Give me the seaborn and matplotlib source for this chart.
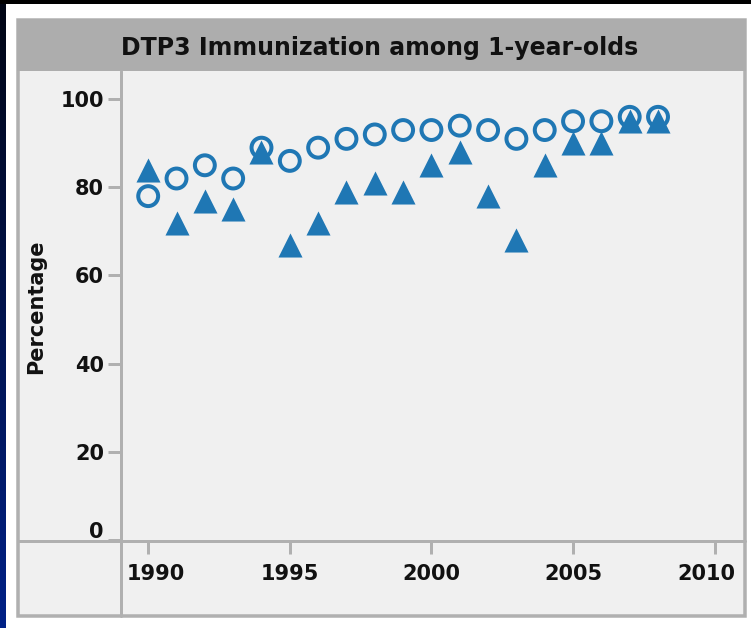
import numpy as np
import pandas as pd
import matplotlib
matplotlib.use("Agg")
import matplotlib.pyplot as plt
from matplotlib.patches import Rectangle
from matplotlib.lines import Line2D
import matplotlib.transforms as mtransforms
import seaborn as sns

# ---- data ----
years = list(range(1990, 2009))
series_circle = [78, 82, 85, 82, 89, 86, 89, 91, 92, 93, 93, 94, 93, 91, 93, 95, 95, 96, 96]
series_triangle = [84, 72, 77, 75, 88, 67, 72, 79, 81, 79, 85, 88, 78, 68, 85, 90, 90, 95, 95]
x_ticks = [1990, 1995, 2000, 2005, 2010]
y_ticks = [0, 20, 40, 60, 80, 100]
title_text = "DTP3 Immunization among 1-year-olds"
ylabel_text = "Percentage"

sns.set_theme(style="white")
plt.rcParams['font.family'] = ['DejaVu Sans']

W, H = 751, 628
DPI = 100
fig = plt.figure(figsize=(W / DPI, H / DPI), dpi=DPI, facecolor="white")

def fx(px):
    return px / W

def fy(py):
    return 1 - py / H

PT = 72 / DPI  # points per pixel
GRAY = "#b0b0b0"
PANEL = "#f0f0f0"
BLUE = "#1f77b4"
TXT = "#111111"

# ---- outer decoration ----
fig.patches.append(Rectangle((0, fy(4)), 1, 4 / H, transform=fig.transFigure,
                             facecolor="black", edgecolor="none", zorder=0))
gax = fig.add_axes([0, 0, fx(6), fy(4)])
grad = np.linspace(0, 1, 256).reshape(-1, 1)
cols = np.zeros((256, 1, 3))
cols[:, 0, 0] = 0.0
cols[:, 0, 1] = 0.02 + 0.11 * grad[:, 0]
cols[:, 0, 2] = 0.08 + 0.45 * grad[:, 0]
gax.imshow(cols, aspect="auto", origin="upper")
gax.set_axis_off()
gax.set_zorder(1)

# panel background with border
fig.patches.append(Rectangle((fx(18), fy(616)), fx(745) - fx(18), fy(20) - fy(616),
                             transform=fig.transFigure, facecolor=PANEL,
                             edgecolor=GRAY, linewidth=3.5 * PT, zorder=0))
# title bar
fig.patches.append(Rectangle((fx(17), fy(71)), fx(745.5) - fx(17), fy(19) - fy(71),
                             transform=fig.transFigure, facecolor="#adadad",
                             edgecolor="none", zorder=1))
fig.text(fx(380), fy(48), title_text, ha="center", va="center",
         fontsize=17, fontweight="bold", color=TXT)

# separator lines
fig.lines.append(Line2D([fx(121), fx(121)], [fy(71), fy(616)], transform=fig.transFigure,
                        color=GRAY, linewidth=3 * PT, zorder=3))
fig.lines.append(Line2D([fx(18), fx(745)], [fy(541), fy(541)], transform=fig.transFigure,
                        color=GRAY, linewidth=3 * PT, zorder=3))

# ---- main axes ----
ax = fig.add_axes([fx(121), fy(541), fx(743) - fx(121), fy(71) - fy(541)])
ax.set_zorder(5)
ax.patch.set_alpha(0)

df_c = pd.DataFrame({"year": years, "value": series_circle})
df_t = pd.DataFrame({"year": years, "value": series_triangle})

sns.scatterplot(data=df_c, x="year", y="value", ax=ax, marker="o", s=205,
                facecolor="none", edgecolor=BLUE, linewidth=4 * PT, zorder=4,
                clip_on=False)
sns.scatterplot(data=df_t, x="year", y="value", ax=ax, marker="^", s=300,
                color=BLUE, linewidth=0, zorder=5, clip_on=False)

ax.set_xlim(1989.04, 2011.0)
ax.set_ylim(-0.27, 106.4)
ax.set_xticks(x_ticks)
ax.set_yticks(y_ticks)
ax.set_xticklabels([str(v) for v in x_ticks], fontweight="bold")
ax.set_yticklabels([str(v) for v in y_ticks], fontweight="bold")
for s in ax.spines.values():
    s.set_visible(False)
ax.tick_params(axis="y", direction="out", length=13 * PT, width=3 * PT, color=GRAY,
               pad=4 * PT, labelsize=15, labelcolor=TXT, left=True)
ax.tick_params(axis="x", direction="out", length=13 * PT, width=3 * PT, color=GRAY,
               pad=10 * PT, labelsize=15, labelcolor=TXT, bottom=True)
ax.set_xlabel("")
ax.set_ylabel("")
ax.grid(False)

# nudge edge labels to stay inside the panel
xl = ax.get_xticklabels()
xl[0].set_transform(xl[0].get_transform() + mtransforms.ScaledTranslation(8 / DPI, 0, fig.dpi_scale_trans))
xl[-1].set_transform(xl[-1].get_transform() + mtransforms.ScaledTranslation(-8 / DPI, 0, fig.dpi_scale_trans))
yl = ax.get_yticklabels()
yl[0].set_transform(yl[0].get_transform() + mtransforms.ScaledTranslation(0, 10 / DPI, fig.dpi_scale_trans))

fig.text(fx(36), fy(307), ylabel_text, rotation=90, ha="center", va="center",
         fontsize=15, fontweight="bold", color=TXT)

fig.savefig("out.png", dpi=DPI, facecolor="white")
